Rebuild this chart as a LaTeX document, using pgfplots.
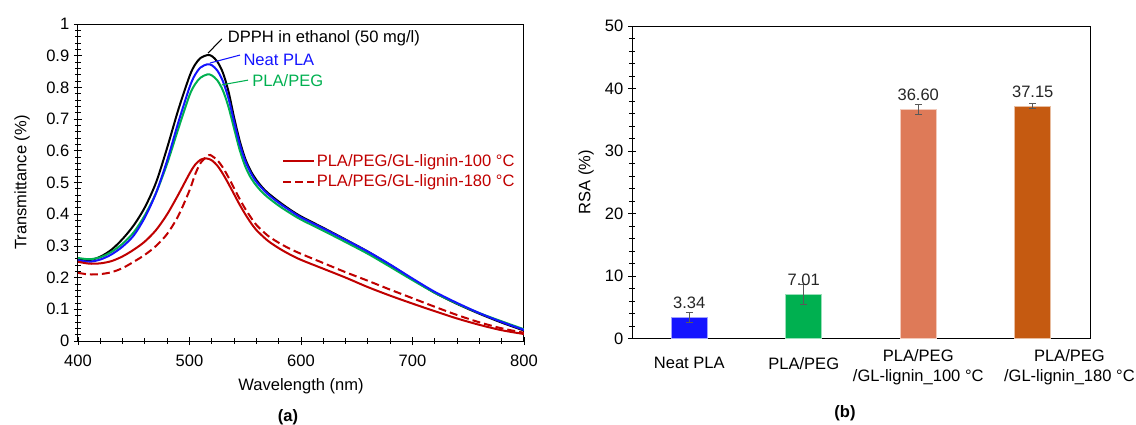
\documentclass[border=0pt]{standalone}
\usepackage{fontspec}
\setmainfont{Liberation Sans}
\usepackage{pgfplots}
\pgfplotsset{compat=1.18}

\definecolor{neatblue}{RGB}{20,20,255}
\definecolor{pegreen}{RGB}{0,176,80}
\definecolor{lignred}{RGB}{192,0,0}
\definecolor{bar100}{RGB}{222,122,88}
\definecolor{bar180}{RGB}{197,90,17}
\definecolor{errgray}{RGB}{89,89,89}
\newcommand\f{\fontsize{12.4}{14.5}\selectfont}

\begin{document}
\begin{tikzpicture}[font=\f]
\useasboundingbox (0,0) rectangle (852pt,-318.75pt);

% (a) transmittance spectra
\begin{axis}[
  at={(58.5pt,-255.75pt)}, anchor=south west,
  scale only axis, width=334.5pt, height=237.75pt,
  clip mode=individual,
  xmin=400, xmax=800, ymin=0, ymax=1,
  xtick={400,500,600,700,800},
  ytick={0,0.1,0.2,0.3,0.4,0.5,0.6,0.7,0.8,0.9,1},
  minor x tick num=4, minor y tick num=4,
  tick align=center, tick pos=left,
  major tick length=6pt, minor tick length=4pt,
  tick style={black, line width=0.6pt},
  axis line style={line width=0.75pt},
  /pgf/number format/assume math mode=true,
  tick label style={font=\f},
  xticklabel style={yshift=-4pt},
  xlabel={Wavelength (nm)}, ylabel={Transmittance (\%)},
  xlabel style={at={(axis description cs:0.5,-0.144)}, anchor=center},
  ylabel style={at={(axis description cs:-0.1256,0.5)}, anchor=center},
  legend style={draw=none, fill=none, at={(0.457,0.596)}, anchor=north west,
    inner sep=0pt, row sep=2pt, font=\f, text=lignred,
    nodes={inner sep=1.5pt}},
  legend cell align=left,
  legend image code/.code={\draw[#1] (0pt,0pt) -- (23pt,0pt);},
]
\addplot[black, line width=1.5pt, smooth, forget plot] coordinates {
(400,0.258)(410,0.255)(420,0.266)(430,0.288)(440,0.322)(450,0.365)(460,0.422)
(470,0.50)(480,0.61)(490,0.73)(500,0.835)(505,0.872)(510,0.893)(516,0.902)
(520,0.899)(525,0.881)(530,0.846)(535,0.787)(540,0.705)(545,0.632)(550,0.575)
(555,0.536)(560,0.508)(565,0.486)(570,0.468)(580,0.44)(590,0.415)(600,0.393)
(620,0.357)(640,0.32)(660,0.282)(680,0.24)(700,0.195)(720,0.152)(740,0.117)
(760,0.086)(780,0.058)(800,0.033)};
\addplot[pegreen, line width=1.5pt, smooth, forget plot] coordinates {
(400,0.262)(410,0.258)(420,0.264)(430,0.281)(440,0.307)(450,0.343)(460,0.397)
(470,0.467)(480,0.56)(490,0.67)(500,0.775)(505,0.81)(510,0.831)(516,0.841)
(520,0.838)(525,0.822)(530,0.79)(535,0.738)(540,0.67)(545,0.603)(550,0.551)
(555,0.515)(560,0.49)(565,0.47)(570,0.454)(580,0.427)(590,0.404)(600,0.383)
(620,0.348)(640,0.312)(660,0.275)(680,0.234)(700,0.192)(720,0.152)(740,0.118)
(760,0.088)(780,0.062)(800,0.037)};
\addplot[neatblue, line width=1.5pt, smooth, forget plot] coordinates {
(400,0.255)(410,0.25)(420,0.257)(430,0.273)(440,0.298)(450,0.333)(460,0.39)
(470,0.467)(480,0.57)(490,0.69)(500,0.8)(505,0.84)(510,0.863)(516,0.873)
(520,0.87)(525,0.853)(530,0.819)(535,0.765)(540,0.692)(545,0.622)(550,0.568)
(555,0.53)(560,0.502)(565,0.482)(570,0.464)(580,0.436)(590,0.412)(600,0.39)
(620,0.355)(640,0.319)(660,0.282)(680,0.241)(700,0.197)(720,0.155)(740,0.12)
(760,0.088)(780,0.06)(800,0.035)};
\addplot[lignred, line width=1.5pt, smooth] coordinates {
(400,0.25)(410,0.244)(420,0.245)(430,0.252)(440,0.267)(450,0.288)(460,0.314)
(470,0.35)(480,0.40)(490,0.462)(500,0.528)(505,0.556)(510,0.572)(515,0.576)
(520,0.57)(525,0.553)(530,0.527)(535,0.496)(540,0.463)(545,0.43)(550,0.40)
(555,0.373)(560,0.35)(570,0.317)(580,0.293)(590,0.273)(600,0.256)(620,0.228)
(640,0.2)(660,0.17)(680,0.143)(700,0.118)(720,0.094)(740,0.071)(760,0.051)
(780,0.034)(800,0.022)};
\addlegendentry{PLA/PEG/GL-lignin-100 °C}
\addplot[lignred, line width=1.5pt, smooth, dash pattern=on 6pt off 3pt] coordinates {
(400,0.215)(410,0.21)(420,0.211)(430,0.217)(440,0.23)(450,0.25)(460,0.272)
(470,0.30)(480,0.338)(490,0.395)(500,0.475)(505,0.525)(510,0.562)(517,0.586)
(520,0.584)(525,0.57)(530,0.547)(535,0.516)(540,0.482)(545,0.448)(550,0.417)
(555,0.39)(560,0.366)(570,0.333)(580,0.31)(590,0.291)(600,0.275)(620,0.246)
(640,0.217)(660,0.19)(680,0.162)(700,0.135)(720,0.108)(740,0.082)(760,0.059)
(780,0.04)(800,0.026)};
\addlegendentry{PLA/PEG/GL-lignin-180 °C}

% call-outs
\draw[black, line width=0.8pt] (axis cs:516.6,0.908) -- (axis cs:529,0.953);
\node[anchor=west, inner sep=1pt] at (axis cs:533,0.956) {DPPH in ethanol (50 mg/l)};
\draw[neatblue, line width=0.8pt] (axis cs:518.4,0.877) -- (axis cs:545.3,0.902);
\node[anchor=west, inner sep=1pt, text=neatblue] at (axis cs:547,0.886) {Neat PLA};
\draw[pegreen, line width=0.8pt] (axis cs:529,0.808) -- (axis cs:552.5,0.823);
\node[anchor=west, inner sep=1pt, text=pegreen] at (axis cs:555,0.820) {PLA/PEG};

\node[font=\f\bfseries] at (axis description cs:0.471,-0.239) {(a)};
\end{axis}

% (b) radical scavenging activity
\begin{axis}[
  at={(474pt,-253.875pt)}, anchor=south west,
  scale only axis, width=343.5pt, height=234.375pt,
  clip mode=individual,
  xmin=-0.5, xmax=3.5, ymin=0, ymax=50,
  xtick={0,1,2,3.32},
  xticklabels={\raisebox{3pt}[\height][\depth]{Neat PLA},
    \raisebox{3pt}[\height][\depth]{PLA/PEG},
    {PLA/PEG\\/GL-lignin\_100 °C}, {PLA/PEG\\/GL-lignin\_180 °C}},
  xticklabel style={align=center, font=\f, anchor=center, yshift=-18.5pt},
  x tick style={draw=none},
  ytick={0,10,20,30,40,50}, minor y tick num=4,
  tick align=center, tick pos=left,
  major tick length=6pt, minor tick length=4pt,
  y tick style={black, line width=0.6pt},
  axis line style={line width=0.75pt},
  /pgf/number format/assume math mode=true,
  tick label style={font=\f},
  ylabel={RSA (\%)},
  ylabel style={at={(axis description cs:-0.1004,0.5)}, anchor=center},
  nodes near coords={\pgfmathprintnumber[fixed, fixed zerofill, precision=2]{\pgfplotspointmeta}},
  nodes near coords align={anchor=center},
  nodes near coords style={yshift=11pt, font=\f, text=black!85},
  every axis plot/.append style={ybar, bar width=27pt, bar shift=0pt, line width=0.75pt},
  error bars/error bar style={errgray, line width=0.8pt},
  error bars/error mark options={rotate=90, mark size=2.6pt, errgray, line width=0.8pt},
]
\addplot[fill=neatblue, draw=neatblue!40!white,
  error bars/.cd, y dir=both, y explicit] coordinates {(0,3.34) +- (0,0.85)};
\addplot[fill=pegreen, draw=pegreen!40!white,
  error bars/.cd, y dir=both, y explicit] coordinates {(1,7.01) +- (0,1.6)};
\addplot[fill=bar100, draw=bar100!40!white,
  error bars/.cd, y dir=both, y explicit] coordinates {(2,36.60) +- (0,0.8)};
\addplot[fill=bar180, draw=bar180!40!white,
  error bars/.cd, y dir=both, y explicit] coordinates {(3,37.15) +- (0,0.4)};

\node[font=\f\bfseries] at (axis description cs:0.465,-0.238) {(b)};
\end{axis}
\end{tikzpicture}
\end{document}
